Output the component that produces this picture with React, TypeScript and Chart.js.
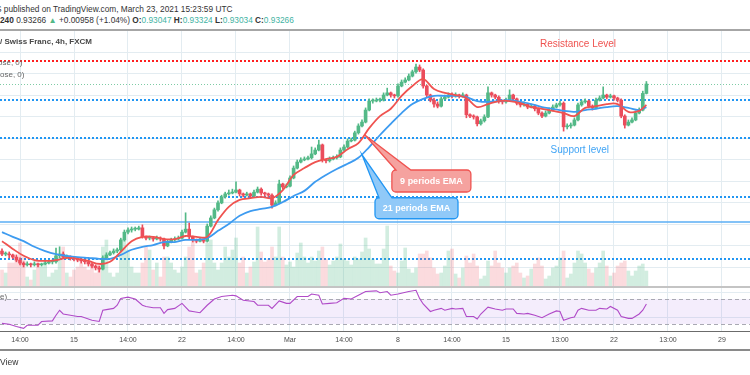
import React, { useEffect, useRef } from 'react';
import { Chart, registerables } from 'chart.js';
Chart.register(...registerables);

// ---------- DATA (USD/CHF 4h, FXCM) ----------
const OPEN = [
  0.8938, 0.8931, 0.8931, 0.8929, 0.8924, 0.8917, 0.8910, 0.8906, 0.8908, 0.8906,
  0.8908, 0.8906, 0.8908, 0.8910, 0.8913, 0.8913, 0.8927, 0.8931, 0.8924, 0.8924,
  0.8922, 0.8920, 0.8917, 0.8915, 0.8913, 0.8908, 0.8903, 0.8899, 0.8896, 0.8922,
  0.8929, 0.8934, 0.8938, 0.8941, 0.8964, 0.8982, 0.8987, 0.8989, 0.8989, 0.8992,
  0.8971, 0.8968, 0.8968, 0.8966, 0.8968, 0.8966, 0.8950, 0.8959, 0.8964, 0.8966,
  0.8968, 0.8982, 0.8989, 0.8971, 0.8964, 0.8961, 0.8964, 0.8961, 0.8996, 0.9015,
  0.9034, 0.9050, 0.9064, 0.9071, 0.9073, 0.9075, 0.9080, 0.9071, 0.9068, 0.9071,
  0.9066, 0.9075, 0.9082, 0.9073, 0.9071, 0.9068, 0.9045, 0.9050, 0.9094, 0.9087,
  0.9089, 0.9108, 0.9131, 0.9145, 0.9150, 0.9152, 0.9155, 0.9164, 0.9173, 0.9185,
  0.9150, 0.9148, 0.9152, 0.9155, 0.9157, 0.9173, 0.9180, 0.9194, 0.9196, 0.9213,
  0.9229, 0.9238, 0.9266, 0.9287, 0.9287, 0.9289, 0.9289, 0.9301, 0.9306, 0.9301,
  0.9299, 0.9322, 0.9331, 0.9336, 0.9345, 0.9355, 0.9366, 0.9359, 0.9322, 0.9301,
  0.9289, 0.9280, 0.9275, 0.9292, 0.9296, 0.9301, 0.9299, 0.9301, 0.9299, 0.9301,
  0.9255, 0.9252, 0.9250, 0.9234, 0.9241, 0.9250, 0.9306, 0.9301, 0.9296, 0.9287,
  0.9285, 0.9289, 0.9301, 0.9292, 0.9282, 0.9278, 0.9280, 0.9273, 0.9275, 0.9269,
  0.9259, 0.9252, 0.9259, 0.9266, 0.9273, 0.9278, 0.9282, 0.9227, 0.9229, 0.9231,
  0.9243, 0.9278, 0.9285, 0.9287, 0.9275, 0.9271, 0.9289, 0.9294, 0.9301, 0.9296,
  0.9299, 0.9294, 0.9289, 0.9252, 0.9231, 0.9238, 0.9243, 0.9259, 0.9266, 0.93047,
];
const HIGH = [
  0.8943, 0.8936, 0.8936, 0.8931, 0.8929, 0.8922, 0.8913, 0.8913, 0.8910, 0.8913,
  0.8910, 0.8910, 0.8915, 0.8917, 0.8917, 0.8945, 0.8948, 0.8936, 0.8929, 0.8927,
  0.8924, 0.8922, 0.8920, 0.8917, 0.8917, 0.8910, 0.8906, 0.8903, 0.8927, 0.8934,
  0.8938, 0.8943, 0.8945, 0.8968, 0.8987, 0.8992, 0.8994, 0.8994, 0.8996, 0.8999,
  0.8973, 0.8973, 0.8971, 0.8973, 0.8971, 0.8968, 0.8964, 0.8968, 0.8971, 0.8973,
  0.8987, 0.9027, 0.9003, 0.8973, 0.8966, 0.8968, 0.8966, 0.9001, 0.9020, 0.9038,
  0.9055, 0.9068, 0.9075, 0.9080, 0.9082, 0.9099, 0.9082, 0.9073, 0.9075, 0.9073,
  0.9080, 0.9087, 0.9085, 0.9075, 0.9073, 0.9071, 0.9055, 0.9103, 0.9096, 0.9094,
  0.9113, 0.9136, 0.9150, 0.9155, 0.9157, 0.9159, 0.9180, 0.9178, 0.9196, 0.9187,
  0.9152, 0.9157, 0.9159, 0.9162, 0.9178, 0.9185, 0.9199, 0.9201, 0.9217, 0.9234,
  0.9243, 0.9271, 0.9292, 0.9292, 0.9294, 0.9294, 0.9306, 0.9317, 0.9308, 0.9303,
  0.9327, 0.9336, 0.9341, 0.9350, 0.9359, 0.9373, 0.9371, 0.9362, 0.9324, 0.9303,
  0.9294, 0.9285, 0.9296, 0.9301, 0.9306, 0.9306, 0.9306, 0.9303, 0.9306, 0.9303,
  0.9257, 0.9255, 0.9252, 0.9245, 0.9255, 0.9320, 0.9308, 0.9303, 0.9299, 0.9289,
  0.9294, 0.9313, 0.9303, 0.9294, 0.9285, 0.9285, 0.9282, 0.9280, 0.9278, 0.9271,
  0.9262, 0.9264, 0.9271, 0.9278, 0.9282, 0.9287, 0.9285, 0.9234, 0.9236, 0.9248,
  0.9282, 0.9289, 0.9292, 0.9289, 0.9278, 0.9294, 0.9299, 0.9320, 0.9303, 0.9303,
  0.9301, 0.9296, 0.9292, 0.9255, 0.9243, 0.9248, 0.9264, 0.9271, 0.9310, 0.93324,
];
const LOW = [
  0.8927, 0.8927, 0.8922, 0.8920, 0.8913, 0.8906, 0.8901, 0.8903, 0.8901, 0.8903,
  0.8901, 0.8903, 0.8906, 0.8908, 0.8908, 0.8910, 0.8922, 0.8920, 0.8920, 0.8917,
  0.8915, 0.8913, 0.8910, 0.8908, 0.8903, 0.8899, 0.8894, 0.8889, 0.8894, 0.8920,
  0.8927, 0.8931, 0.8934, 0.8938, 0.8961, 0.8978, 0.8982, 0.8985, 0.8987, 0.8968,
  0.8964, 0.8964, 0.8961, 0.8964, 0.8961, 0.8943, 0.8948, 0.8957, 0.8961, 0.8964,
  0.8966, 0.8980, 0.8966, 0.8959, 0.8957, 0.8959, 0.8957, 0.8959, 0.8994, 0.9013,
  0.9031, 0.9048, 0.9061, 0.9068, 0.9071, 0.9073, 0.9066, 0.9064, 0.9066, 0.9061,
  0.9064, 0.9073, 0.9068, 0.9066, 0.9064, 0.9038, 0.9043, 0.9048, 0.9082, 0.9085,
  0.9087, 0.9106, 0.9129, 0.9143, 0.9148, 0.9150, 0.9152, 0.9162, 0.9171, 0.9145,
  0.9143, 0.9145, 0.9150, 0.9152, 0.9155, 0.9171, 0.9178, 0.9192, 0.9194, 0.9210,
  0.9227, 0.9236, 0.9264, 0.9282, 0.9285, 0.9285, 0.9287, 0.9299, 0.9296, 0.9294,
  0.9296, 0.9320, 0.9329, 0.9334, 0.9343, 0.9352, 0.9355, 0.9317, 0.9296, 0.9285,
  0.9273, 0.9271, 0.9273, 0.9289, 0.9294, 0.9294, 0.9296, 0.9294, 0.9296, 0.9248,
  0.9248, 0.9245, 0.9229, 0.9231, 0.9238, 0.9248, 0.9296, 0.9292, 0.9282, 0.9280,
  0.9282, 0.9287, 0.9287, 0.9278, 0.9273, 0.9275, 0.9269, 0.9271, 0.9264, 0.9255,
  0.9248, 0.9250, 0.9257, 0.9264, 0.9271, 0.9275, 0.9217, 0.9222, 0.9224, 0.9229,
  0.9241, 0.9275, 0.9282, 0.9271, 0.9266, 0.9269, 0.9287, 0.9292, 0.9292, 0.9294,
  0.9289, 0.9285, 0.9248, 0.9224, 0.9229, 0.9236, 0.9241, 0.9257, 0.9264, 0.93034,
];
const CLOSE = [
  0.8931, 0.8931, 0.8929, 0.8924, 0.8917, 0.8910, 0.8906, 0.8908, 0.8906, 0.8908,
  0.8906, 0.8908, 0.8910, 0.8913, 0.8913, 0.8927, 0.8931, 0.8924, 0.8924, 0.8922,
  0.8920, 0.8917, 0.8915, 0.8913, 0.8908, 0.8903, 0.8899, 0.8896, 0.8922, 0.8929,
  0.8934, 0.8938, 0.8941, 0.8964, 0.8982, 0.8987, 0.8989, 0.8989, 0.8992, 0.8971,
  0.8968, 0.8968, 0.8966, 0.8968, 0.8966, 0.8950, 0.8959, 0.8964, 0.8966, 0.8968,
  0.8982, 0.8989, 0.8971, 0.8964, 0.8961, 0.8964, 0.8961, 0.8996, 0.9015, 0.9034,
  0.9050, 0.9064, 0.9071, 0.9073, 0.9075, 0.9080, 0.9071, 0.9068, 0.9071, 0.9066,
  0.9075, 0.9082, 0.9073, 0.9071, 0.9068, 0.9045, 0.9050, 0.9094, 0.9087, 0.9089,
  0.9108, 0.9131, 0.9145, 0.9150, 0.9152, 0.9155, 0.9164, 0.9173, 0.9185, 0.9150,
  0.9148, 0.9152, 0.9155, 0.9157, 0.9173, 0.9180, 0.9194, 0.9196, 0.9213, 0.9229,
  0.9238, 0.9266, 0.9287, 0.9287, 0.9289, 0.9289, 0.9301, 0.9306, 0.9301, 0.9299,
  0.9322, 0.9331, 0.9336, 0.9345, 0.9355, 0.9366, 0.9359, 0.9322, 0.9301, 0.9289,
  0.9280, 0.9275, 0.9292, 0.9296, 0.9301, 0.9299, 0.9301, 0.9299, 0.9301, 0.9255,
  0.9252, 0.9250, 0.9234, 0.9241, 0.9250, 0.9306, 0.9301, 0.9296, 0.9287, 0.9285,
  0.9289, 0.9301, 0.9292, 0.9282, 0.9278, 0.9280, 0.9273, 0.9275, 0.9269, 0.9259,
  0.9252, 0.9259, 0.9266, 0.9273, 0.9278, 0.9282, 0.9227, 0.9229, 0.9231, 0.9243,
  0.9278, 0.9285, 0.9287, 0.9275, 0.9271, 0.9289, 0.9294, 0.9301, 0.9296, 0.9299,
  0.9294, 0.9289, 0.9252, 0.9231, 0.9238, 0.9243, 0.9259, 0.9266, 0.93047, 0.93266,
];
const VOLUME = [
  17, 14, 24, 24, 27, 44, 30, 10, 7, 17,
  24, 20, 27, 10, 14, 17, 30, 40, 14, 10,
  17, 20, 24, 20, 17, 20, 14, 24, 40, 47,
  14, 10, 14, 40, 47, 37, 20, 14, 14, 24,
  40, 37, 17, 24, 10, 30, 30, 24, 17, 14,
  20, 30, 40, 47, 14, 17, 24, 44, 47, 24,
  17, 24, 40, 30, 37, 49, 24, 30, 14, 20,
  25, 60, 35, 25, 28, 40, 30, 60, 30, 22,
  25, 20, 34, 44, 30, 24, 30, 26, 36, 40,
  28, 22, 26, 30, 43, 28, 26, 22, 30, 28,
  35, 49, 38, 28, 23, 23, 38, 61, 21, 16,
  14, 26, 39, 18, 14, 19, 33, 33, 36, 29,
  19, 13, 14, 21, 36, 38, 13, 9, 19, 31,
  24, 33, 21, 8, 11, 26, 21, 36, 24, 19,
  14, 19, 21, 24, 14, 9, 11, 18, 23, 29,
  21, 8, 11, 19, 21, 29, 36, 9, 13, 24,
  36, 33, 24, 18, 14, 19, 24, 36, 21, 11,
  14, 21, 24, 26, 16, 11, 16, 21, 23, 16,
];

// EMA values read at every third bar
const EMA_IDX = [0, 3, 6, 9, 12, 15, 18, 21, 24, 27, 30, 33, 36, 39, 42, 45, 48, 51, 54, 57, 60, 63, 66, 69, 72, 75, 78, 81, 84, 87, 90, 93, 96, 99, 102, 105, 108, 111, 114, 117, 120, 123, 126, 129, 132, 135, 138, 141, 144, 147, 150, 153, 156, 159, 162, 165, 168, 171, 174, 177, 179];
const EMA9 = [
  0.8961, 0.8943, 0.8927, 0.8917, 0.8915, 0.8917, 0.8922, 0.8920, 0.8915, 0.8908,
  0.8913, 0.8936, 0.8961, 0.8971, 0.8971, 0.8966, 0.8966, 0.8973, 0.8971, 0.8971,
  0.9010, 0.9041, 0.9057, 0.9061, 0.9064, 0.9061, 0.9080, 0.9115, 0.9131, 0.9145,
  0.9152, 0.9157, 0.9175, 0.9189, 0.9224, 0.9252, 0.9269, 0.9299, 0.9322, 0.9338,
  0.9315, 0.9306, 0.9301, 0.9294, 0.9273, 0.9280, 0.9287, 0.9287, 0.9282, 0.9273,
  0.9269, 0.9264, 0.9259, 0.9252, 0.9271, 0.9275, 0.9280, 0.9280, 0.9262, 0.9264,
  0.9278,
];
const EMA21 = [
  0.8982, 0.8971, 0.8961, 0.8948, 0.8938, 0.8931, 0.8927, 0.8924, 0.8922, 0.8920,
  0.8920, 0.8929, 0.8941, 0.8948, 0.8952, 0.8959, 0.8959, 0.8964, 0.8964, 0.8968,
  0.8985, 0.9001, 0.9020, 0.9031, 0.9036, 0.9041, 0.9052, 0.9066, 0.9078, 0.9099,
  0.9115, 0.9129, 0.9141, 0.9155, 0.9180, 0.9208, 0.9234, 0.9259, 0.9280, 0.9292,
  0.9299, 0.9299, 0.9299, 0.9296, 0.9287, 0.9285, 0.9287, 0.9289, 0.9285, 0.9280,
  0.9273, 0.9269, 0.9264, 0.9262, 0.9266, 0.9269, 0.9273, 0.9275, 0.9271, 0.9266,
  0.9273,
];

// RSI (14)
const RSI_IDX = [0, 2, 4, 6, 7, 10, 11, 14, 15, 16, 17, 19, 21, 22, 25, 27, 28, 29, 31, 32, 33, 35, 37, 39, 40, 42, 44, 45, 46, 48, 50, 52, 53, 55, 57, 59, 61, 64, 65, 67, 70, 71, 74, 75, 77, 79, 80, 82, 85, 86, 88, 89, 91, 93, 95, 97, 99, 101, 104, 105, 107, 108, 110, 113, 115, 116, 117, 119, 120, 122, 123, 125, 126, 128, 129, 131, 132, 133, 135, 137, 139, 140, 142, 143, 145, 146, 148, 150, 152, 154, 155, 156, 158, 159, 160, 161, 163, 165, 166, 168, 169, 171, 172, 174, 175, 177, 178, 179];
const RSI_VAL = [31, 29.5, 26, 23, 28, 28, 34, 35, 44, 52, 46, 44, 42, 42, 36, 34, 52, 53, 55, 60, 71, 73, 70, 60, 58, 56, 56, 47, 53, 55, 63, 51, 50, 48, 60, 70, 74, 76, 75, 68, 66, 60, 60, 55, 67, 63, 63, 74, 74, 78, 76, 62, 63, 64, 71, 70, 76, 82, 83, 80, 82, 76, 78, 82, 84, 71, 62, 50, 52, 55, 52, 55, 54, 55, 42, 42, 38, 46, 57, 54, 52, 54, 54, 47, 46, 47, 44, 40, 46, 51, 50, 36, 40, 41, 52, 55, 52, 52, 55, 54, 58, 52, 42, 39, 39, 46, 52, 62];

// time axis
const GRID_IDX = [5, 20, 35, 50, 65, 80, 95, 110, 125, 140, 155, 170, 185, 200];
const GRID_LABELS = ['14:00', '15', '14:00', '22', '14:00', 'Mar', '14:00', '8', '14:00', '15', '13:00', '22', '13:00', '29'];

// drawn levels
const RESISTANCE_LEVELS = [0.9380];
const SUPPORT_LEVELS = [0.9289, 0.9201, 0.9064, 0.8920];
const SOLID_LEVELS = [0.9006];
const PRICE_GRID = [0.89, 0.895, 0.9, 0.905, 0.91, 0.915, 0.92, 0.925, 0.93, 0.935, 0.94];
const RSI_GRID = [40, 80];
const RSI_BAND = [30, 70];

const TEXT_LABELS = [
  { text: 'Resistance Level', idx: 160, price: 0.9420, color: '#ef5350' },
  { text: 'Support level', idx: 160.5, price: 0.9173, color: '#42a5f5' },
];
const CALLOUTS = [
  { text: '9 periods EMA', idx: 100.8, price: 0.9208, dx: 27, dy: 35, w: 79, h: 22, b0: 4, b1: 19, fill: '#f5a29f', stroke: '#ef5350' },
  { text: '21 periods EMA', idx: 100, price: 0.9162, dx: 13, dy: 43, w: 83, h: 21, b0: 4, b1: 17, fill: '#90c9f8', stroke: '#2196f3' },
];

// ---------- STYLE ----------
const FONT = '"Liberation Sans", Arial, sans-serif';
const UP = '#53b987';
const DOWN = '#eb4d5c';
const GRID = '#e3ecf1';
const X_MIN = -0.556;
const X_MAX = 207.78;
const PRICE_MIN = 0.88544;
const PRICE_MAX = 0.94499;
const RSI_MIN = 18.8;
const RSI_MAX = 87.6;

export default function App() {
  const mainRef = useRef<HTMLCanvasElement>(null);
  const rsiRef = useRef<HTMLCanvasElement>(null);

  useEffect(() => {
    const idx = CLOSE.map((_, i) => i);
    const up = idx.map((i) => CLOSE[i] >= OPEN[i]);
    const col = up.map((u) => (u ? UP : DOWN));
    const volCol = up.map((u) => (u ? 'rgba(83,185,135,0.26)' : 'rgba(235,77,92,0.2)'));

    const xScale = (showLabels: boolean) => ({
      type: 'linear' as const,
      min: X_MIN,
      max: X_MAX,
      offset: false,
      border: { display: false },
      grid: { color: GRID, drawTicks: false, lineWidth: 1, offset: false },
      ticks: showLabels
        ? {
            autoSkip: false,
            maxRotation: 0,
            padding: 5,
            color: '#4a4a4a',
            font: { size: 7, family: FONT },
            callback: (_v: any, i: number) => GRID_LABELS[i] ?? '',
          }
        : { display: false },
      afterBuildTicks: (s: any) => {
        s.ticks = GRID_IDX.map((v) => ({ value: v }));
      },
      afterFit: (s: any) => {
        s.height = showLabels ? 19 : 0;
      },
    });

    const levelsPlugin = {
      id: 'levels',
      beforeDatasetsDraw(chart: any) {
        const { ctx, chartArea: a, scales } = chart;
        const y = scales.y;
        const hline = (p: number, color: string, w: number, dash: number[]) => {
          let py = y.getPixelForValue(p);
          py = w % 2 === 1 ? Math.round(py) + 0.5 : Math.round(py);
          ctx.save();
          ctx.strokeStyle = color;
          ctx.lineWidth = w;
          ctx.setLineDash(dash);
          ctx.beginPath();
          ctx.moveTo(a.left, py);
          ctx.lineTo(a.right, py);
          ctx.stroke();
          ctx.restore();
        };
        SOLID_LEVELS.forEach((p) => hline(p, '#5aaef5', 1.5, []));
        SUPPORT_LEVELS.forEach((p) => hline(p, '#2196f3', 2, [2, 2]));
        RESISTANCE_LEVELS.forEach((p) => hline(p, '#ff1f1f', 2, [2, 2]));
        hline(CLOSE[CLOSE.length - 1], 'rgba(83,185,135,0.75)', 1, [1, 2]);
      },
      afterDatasetsDraw(chart: any) {
        const { ctx, scales } = chart;
        const x = scales.x;
        const y = scales.y;
        ctx.save();
        CALLOUTS.forEach((c) => {
          const ax = x.getPixelForValue(c.idx);
          const ay = y.getPixelForValue(c.price);
          const bx = ax + c.dx;
          const by = ay + c.dy;
          const r = 4;
          ctx.beginPath();
          ctx.moveTo(bx + r, by);
          ctx.lineTo(bx + c.b0, by);
          ctx.lineTo(ax, ay);
          ctx.lineTo(bx + c.b1, by);
          ctx.lineTo(bx + c.w - r, by);
          ctx.arcTo(bx + c.w, by, bx + c.w, by + r, r);
          ctx.lineTo(bx + c.w, by + c.h - r);
          ctx.arcTo(bx + c.w, by + c.h, bx + c.w - r, by + c.h, r);
          ctx.lineTo(bx + r, by + c.h);
          ctx.arcTo(bx, by + c.h, bx, by + c.h - r, r);
          ctx.lineTo(bx, by + r);
          ctx.arcTo(bx, by, bx + r, by, r);
          ctx.closePath();
          ctx.fillStyle = c.fill;
          ctx.fill();
          ctx.lineWidth = 1.3;
          ctx.strokeStyle = c.stroke;
          ctx.stroke();
          ctx.fillStyle = '#ffffff';
          ctx.font = `bold 9px ${FONT}`;
          ctx.textAlign = 'center';
          ctx.textBaseline = 'middle';
          ctx.fillText(c.text, bx + c.w / 2, by + c.h / 2 + 0.5);
        });
        TEXT_LABELS.forEach((t) => {
          ctx.fillStyle = t.color;
          ctx.font = `10px ${FONT}`;
          ctx.textAlign = 'center';
          ctx.textBaseline = 'middle';
          ctx.fillText(t.text, x.getPixelForValue(t.idx), y.getPixelForValue(t.price));
        });
        ctx.restore();
      },
    };

    const main = new Chart(mainRef.current as HTMLCanvasElement, {
      type: 'bar',
      data: {
        datasets: [
          {
            type: 'line',
            label: 'EMA 9',
            data: EMA_IDX.map((v, k) => ({ x: v, y: EMA9[k] })),
            borderColor: '#ef5350',
            borderWidth: 1.8,
            pointRadius: 0,
            tension: 0.35,
            fill: false,
            order: 1,
          } as any,
          {
            type: 'line',
            label: 'EMA 21',
            data: EMA_IDX.map((v, k) => ({ x: v, y: EMA21[k] })),
            borderColor: '#3d9bf0',
            borderWidth: 1.8,
            pointRadius: 0,
            tension: 0.35,
            fill: false,
            order: 2,
          } as any,
          {
            type: 'bar',
            label: 'body',
            data: idx.map((i) => ({ x: i, y: [OPEN[i], CLOSE[i]] })),
            backgroundColor: col,
            barThickness: 3,
            minBarLength: 1,
            grouped: false,
            order: 3,
          } as any,
          {
            type: 'bar',
            label: 'wick',
            data: idx.map((i) => ({ x: i, y: [LOW[i], HIGH[i]] })),
            backgroundColor: col,
            barThickness: 1,
            grouped: false,
            order: 4,
          } as any,
          {
            type: 'bar',
            label: 'volume',
            data: idx.map((i) => ({ x: i, y: VOLUME[i] })),
            backgroundColor: volCol,
            barThickness: 3,
            grouped: false,
            yAxisID: 'yv',
            order: 5,
          } as any,
        ],
      },
      options: {
        animation: false,
        responsive: false,
        maintainAspectRatio: false,
        events: [],
        layout: { padding: 0 },
        plugins: { legend: { display: false }, tooltip: { enabled: false } },
        scales: {
          x: xScale(false) as any,
          y: {
            min: PRICE_MIN,
            max: PRICE_MAX,
            border: { display: false },
            grid: { color: GRID, drawTicks: false },
            ticks: { display: false },
            afterBuildTicks: (s: any) => {
              s.ticks = PRICE_GRID.map((v) => ({ value: v }));
            },
            afterFit: (s: any) => {
              s.width = 0;
            },
          } as any,
          yv: { min: 0, max: 256, display: false },
        },
      },
      plugins: [levelsPlugin],
    });

    const bandPlugin = {
      id: 'rsiBand',
      beforeDatasetsDraw(chart: any) {
        const { ctx, chartArea: a, scales } = chart;
        const y = scales.y;
        const top = y.getPixelForValue(RSI_BAND[1]);
        const bot = y.getPixelForValue(RSI_BAND[0]);
        ctx.save();
        ctx.fillStyle = 'rgba(150,80,230,0.1)';
        ctx.fillRect(a.left, top, a.right - a.left, bot - top);
        ctx.strokeStyle = '#a9a9b3';
        ctx.lineWidth = 1;
        ctx.setLineDash([4, 3]);
        [top, bot].forEach((py) => {
          ctx.beginPath();
          ctx.moveTo(a.left, Math.round(py) + 0.5);
          ctx.lineTo(a.right, Math.round(py) + 0.5);
          ctx.stroke();
        });
        ctx.restore();
      },
    };

    const rsi = new Chart(rsiRef.current as HTMLCanvasElement, {
      type: 'line',
      data: {
        datasets: [
          {
            label: 'RSI',
            data: RSI_IDX.map((v, k) => ({ x: v, y: RSI_VAL[k] })),
            borderColor: '#b04ac8',
            borderWidth: 1.1,
            pointRadius: 0,
            tension: 0,
            fill: false,
          },
        ],
      },
      options: {
        animation: false,
        responsive: false,
        maintainAspectRatio: false,
        events: [],
        layout: { padding: 0 },
        plugins: { legend: { display: false }, tooltip: { enabled: false } },
        scales: {
          x: xScale(true) as any,
          y: {
            min: RSI_MIN,
            max: RSI_MAX,
            border: { display: false },
            grid: { color: GRID, drawTicks: false },
            ticks: { display: false },
            afterBuildTicks: (s: any) => {
              s.ticks = RSI_GRID.map((v) => ({ value: v }));
            },
            afterFit: (s: any) => {
              s.width = 0;
            },
          } as any,
        },
      },
      plugins: [bandPlugin],
    });

    return () => {
      main.destroy();
      rsi.destroy();
    };
  }, []);

  const abs = (top: number, extra: React.CSSProperties = {}): React.CSSProperties => ({
    position: 'absolute',
    top,
    left: 0,
    whiteSpace: 'nowrap',
    fontFamily: FONT,
    ...extra,
  });
  const teal = { color: '#3fb3a3' };
  const bold = { fontWeight: 700 };

  return (
    <div
      style={{
        position: 'fixed',
        left: 0,
        top: 0,
        width: 750,
        height: 375,
        overflow: 'hidden',
        background: '#ffffff',
        fontFamily: FONT,
      }}
    >
      <div style={abs(3, { left: -4, fontSize: 8.3, lineHeight: '12px', color: '#333' })}>
        S published on TradingView.com, March 23, 2021 15:23:59 UTC
      </div>
      <div style={abs(14, { fontSize: 8.3, lineHeight: '12px', color: '#333' })}>
        <span style={bold}>240</span> 0.93266 <span style={{ color: UP }}>▲</span> +0.00958 (+1.04%){' '}
        <span style={bold}>O:</span>
        <span style={teal}>0.93047</span> <span style={bold}>H:</span>
        <span style={teal}>0.93324</span> <span style={bold}>L:</span>
        <span style={teal}>0.93034</span> <span style={bold}>C:</span>
        <span style={teal}>0.93266</span>
      </div>
      <div style={{ position: 'absolute', left: 0, top: 29, width: 750, height: 2, background: '#a6a6a6' }} />

      <canvas
        ref={mainRef}
        width={750}
        height={256}
        style={{ position: 'absolute', left: 0, top: 31, width: 750, height: 256 }}
      />
      <div style={abs(36, { fontSize: 8, lineHeight: '12px', color: '#474747', fontWeight: 600 })}>
        / Swiss Franc, 4h, FXCM
      </div>
      <div style={abs(57, { left: -2, fontSize: 8, lineHeight: '12px', color: '#666' })}>ose, 0)</div>
      <div style={abs(69, { fontSize: 8, lineHeight: '12px', color: '#666' })}>ose, 0)</div>

      <div style={{ position: 'absolute', left: 0, top: 286, width: 750, height: 2, background: '#c4c4c4' }} />
      <canvas
        ref={rsiRef}
        width={750}
        height={62}
        style={{ position: 'absolute', left: 0, top: 288, width: 750, height: 62 }}
      />
      <div style={abs(291, { left: -4, fontSize: 8, lineHeight: '12px', color: '#666' })}>se)</div>
      <div style={{ position: 'absolute', left: 0, top: 331, width: 750, height: 1, background: '#6b6b6b' }} />
      <div style={{ position: 'absolute', left: 0, top: 349, width: 750, height: 1.5, background: '#8a8a8a' }} />
      <div style={abs(356, { left: 0, fontSize: 8.5, lineHeight: '13px', color: '#333' })}>View</div>
    </div>
  );
}
